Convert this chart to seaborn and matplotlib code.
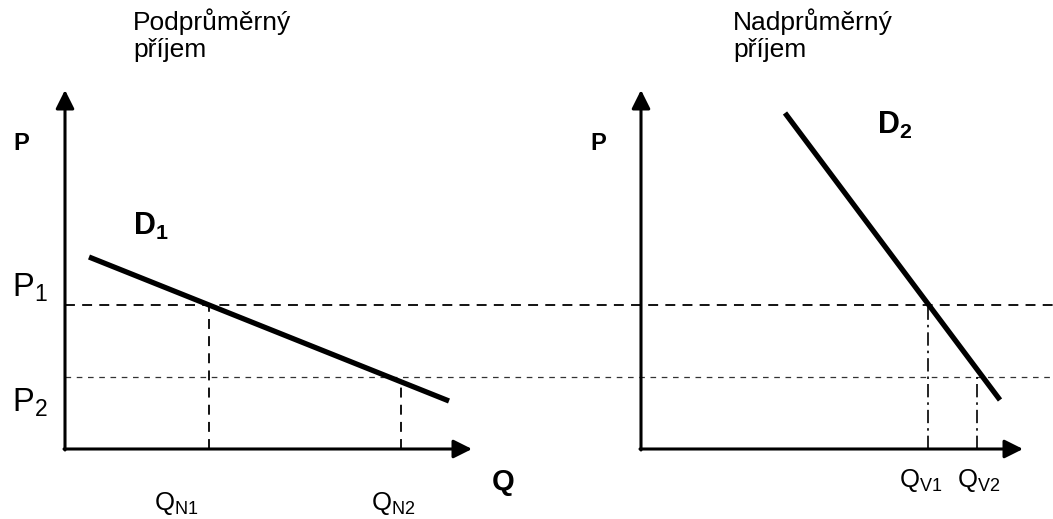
import numpy as np
import matplotlib
matplotlib.use("Agg")
import matplotlib.pyplot as plt
import seaborn as sns

# Hodnoty (jednotka = 10 px, počátek v rohu os každého panelu)
d1_q = [2.4, 38.4]          # poptávka D1 - podprůměrný příjem
d1_p = [19.2, 4.8]
d2_q = [14.4, 35.9]         # poptávka D2 - nadprůměrný příjem
d2_p = [33.6, 4.9]
p_levels = [14.4, 7.2]      # P1, P2
q_left = [14.4, 33.6]       # QN1, QN2
q_right = [28.7, 33.6]      # QV1, QV2
p_labels = ["1", "2"]
q_left_labels = ["N1", "N2"]
q_right_labels = ["V1", "V2"]
titles = ["Podprůměrný\npříjem", "Nadprůměrný\npříjem"]

axis_len_y = 35.9
axis_len_x = [40.7, 38.2]

sns.set_theme(style="white")
plt.rcParams["font.family"] = ["Liberation Sans", "DejaVu Sans"]
plt.rcParams["text.color"] = "black"
plt.rcParams["mathtext.fontset"] = "custom"
plt.rcParams["mathtext.rm"] = "Liberation Sans"
plt.rcParams["mathtext.bf"] = "Liberation Sans:bold"
plt.rcParams["mathtext.it"] = "Liberation Sans:italic"

fig = plt.figure(figsize=(10.53, 5.19), dpi=100)
ax = fig.add_axes([0, 0, 1, 1])
ax.set_xlim(0, 105.3)
ax.set_ylim(0, 51.9)
ax.axis("off")

origins = [(6.5, 7.0), (64.1, 7.0)]
top = 51.9

# osy se šipkami
for (ox, oy), xl in zip(origins, axis_len_x):
    arrow = dict(arrowstyle="-|>", color="black", lw=2.2, mutation_scale=28,
                 shrinkA=0, shrinkB=0)
    ax.annotate("", xy=(ox, oy + axis_len_y), xytext=(ox, oy - 0.1), arrowprops=arrow)
    ax.annotate("", xy=(ox + xl, oy), xytext=(ox - 0.1, oy), arrowprops=arrow)

# vodorovné čáry P1 a P2 přes oba panely
ox0, oy0 = origins[0]
ax.plot([ox0, 105.3], [oy0 + p_levels[0]] * 2, color="black", lw=1.3,
        dashes=(5.5, 4))
ax.plot([ox0, 105.3], [oy0 + p_levels[1]] * 2, color="#333333", lw=0.9,
        dashes=(4.5, 4.5))

# levý panel
ox, oy = origins[0]
sns.lineplot(x=np.array(d1_q) + ox, y=np.array(d1_p) + oy, ax=ax,
             color="black", lw=3.8, solid_capstyle="butt")
for q in q_left:
    p_top = np.interp(q, d1_q, d1_p)
    ax.plot([ox + q, ox + q], [oy, oy + p_top], color="black", lw=1.3,
            dashes=(5.5, 4))

# pravý panel
ox, oy = origins[1]
sns.lineplot(x=np.array(d2_q) + ox, y=np.array(d2_p) + oy, ax=ax,
             color="black", lw=3.8, solid_capstyle="butt")
for q, p in zip(q_right, p_levels):
    ax.plot([ox + q, ox + q], [oy, oy + p], color="black", lw=1.2,
            dashes=(8, 3, 1.5, 3))

# popisky
ax.text(13.3, top - 0.8, titles[0], fontsize=19, va="top", ha="left", linespacing=1.15)
ax.text(73.3, top - 0.8, titles[1], fontsize=19, va="top", ha="left", linespacing=1.15)

ax.text(1.3, top - 15.0, "P", fontsize=17, fontweight="bold", va="baseline")
ax.text(59.0, top - 15.0, "P", fontsize=17, fontweight="bold", va="baseline")

ax.text(1.2, top - 29.7, r"$\mathrm{P_{%s}}$" % p_labels[0], fontsize=23.5, va="baseline")
ax.text(1.2, top - 41.2, r"$\mathrm{P_{%s}}$" % p_labels[1], fontsize=23.5, va="baseline")

ax.text(13.3, top - 23.5, r"$\mathbf{D_1}$", fontsize=22, va="baseline")
ax.text(87.7, top - 13.4, r"$\mathbf{D_2}$", fontsize=22, va="baseline")

ax.text(49.2, top - 49.0, "Q", fontsize=21, fontweight="bold", va="baseline")

for x, lab in zip([15.4, 37.1], q_left_labels):
    ax.text(x, top - 51.0, r"$\mathrm{Q_{%s}}$" % lab, fontsize=18.5, va="baseline")
for x, lab in zip([89.9, 95.7], q_right_labels):
    ax.text(x, top - 48.7, r"$\mathrm{Q_{%s}}$" % lab, fontsize=18.5, va="baseline")

fig.savefig("out.png", dpi=100)
